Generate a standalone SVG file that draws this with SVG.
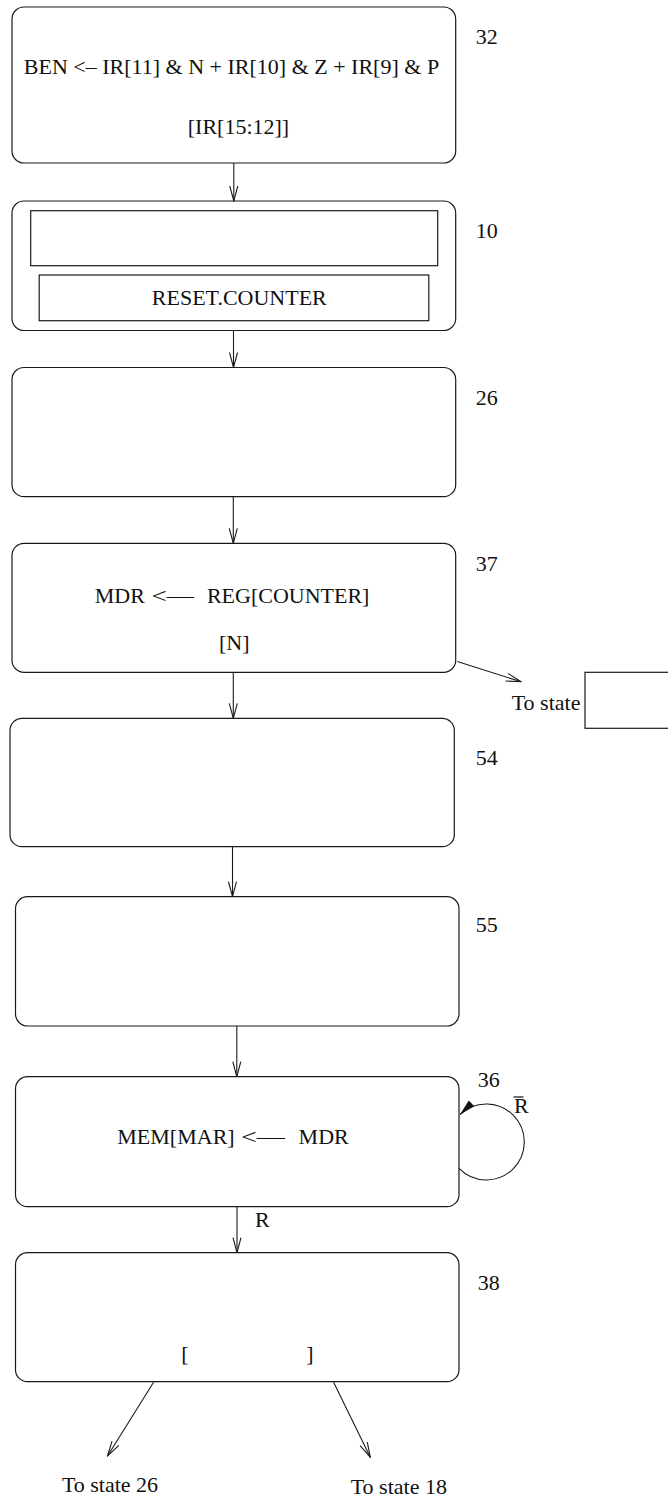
<svg xmlns="http://www.w3.org/2000/svg" width="668" height="1498" viewBox="0 0 668 1498">
<style>
.box{fill:none;stroke:#1a1a1a;stroke-width:1.2}
.ln{fill:none;stroke:#1a1a1a;stroke-width:1.1}
text{font-family:"Liberation Serif","Times New Roman",serif;font-size:22px;fill:#111}
.c{text-anchor:middle}
</style>
<defs>
<marker id="open" viewBox="0 0 16 10" refX="15.5" refY="5" markerWidth="16" markerHeight="10" markerUnits="userSpaceOnUse" orient="auto">
<path d="M0.5,1 L15.5,5 L0.5,9" fill="none" stroke="#1a1a1a" stroke-width="1.1"/>
</marker>
<marker id="solid" viewBox="0 0 16 10" refX="16" refY="5" markerWidth="16" markerHeight="10" markerUnits="userSpaceOnUse" orient="auto">
<path d="M0,1 L16,5 L0,9 Z" fill="#111" stroke="none"/>
</marker>
</defs>
<rect width="668" height="1498" fill="#fff"/>

<g id="state32">
<rect class="box" x="12" y="7" width="443.7" height="156" rx="12"/>
<text class="c" x="231.5" y="74">BEN &lt;– IR[11] &amp; N + IR[10] &amp; Z + IR[9] &amp; P</text>
<text class="c" x="238.5" y="134">[IR[15:12]]</text>
<text x="475.7" y="44">32</text>
</g>

<g id="state10">
<rect class="box" x="12" y="201" width="443.7" height="129.5" rx="12"/>
<rect class="box" x="30.7" y="210.7" width="407" height="55"/>
<rect class="box" x="39.2" y="275" width="389.6" height="45.7"/>
<text class="c" x="239.3" y="305">RESET.COUNTER</text>
<text x="475.7" y="238">10</text>
</g>

<g id="state26">
<rect class="box" x="12" y="367.5" width="443.7" height="129.2" rx="12"/>
<text x="475.7" y="405">26</text>
</g>

<g id="state37">
<rect class="box" x="12" y="543.3" width="443.7" height="129" rx="12"/>
<text x="94.7" y="603">MDR</text>
<text x="151.5" y="603" textLength="42.6" lengthAdjust="spacingAndGlyphs">&lt;—</text>
<text x="206.9" y="603">REG[COUNTER]</text>
<text class="c" x="234.2" y="650">[N]</text>
<text x="475.7" y="571">37</text>
</g>

<g id="tostate-box">
<text x="511.7" y="710">To state</text>
<rect class="box" x="585" y="672.3" width="100" height="56"/>
</g>

<g id="state54">
<rect class="box" x="10" y="718.3" width="444.3" height="128.4" rx="12"/>
<text x="475.7" y="765">54</text>
</g>

<g id="state55">
<rect class="box" x="15.5" y="896.7" width="443.5" height="129.3" rx="12"/>
<text x="475.7" y="931.7">55</text>
</g>

<g id="state36">
<rect class="box" x="15.5" y="1076.7" width="443.5" height="130" rx="12"/>
<text x="117.3" y="1144">MEM[MAR]</text>
<text x="241" y="1144" textLength="44" lengthAdjust="spacingAndGlyphs">&lt;—</text>
<text x="298.6" y="1144">MDR</text>
<text x="477.7" y="1087.3">36</text>
</g>

<g id="state38">
<rect class="box" x="15.5" y="1252.7" width="443.5" height="129" rx="12"/>
<text x="181.3" y="1361">[</text>
<text x="306.3" y="1361">]</text>
<text x="477.7" y="1290">38</text>
</g>

<g id="connectors">
<line class="ln" x1="233.8" y1="163" x2="233.8" y2="201" marker-end="url(#open)"/>
<line class="ln" x1="233.5" y1="330.5" x2="233.5" y2="367.5" marker-end="url(#open)"/>
<line class="ln" x1="233.3" y1="496.7" x2="233.3" y2="543.3" marker-end="url(#open)"/>
<line class="ln" x1="233.3" y1="672.3" x2="233.3" y2="718.3" marker-end="url(#open)"/>
<line class="ln" x1="457.3" y1="661.5" x2="521" y2="681.7" marker-end="url(#open)"/>
<line class="ln" x1="232.5" y1="846.7" x2="232.5" y2="896.7" marker-end="url(#open)"/>
<line class="ln" x1="236.8" y1="1026" x2="236.8" y2="1076.7" marker-end="url(#open)"/>
<path class="ln" d="M459,1168.4 A38,38 0 1 0 460,1114.5" marker-end="url(#solid)"/>
<text x="514" y="1113.3">R</text>
<line x1="513.5" y1="1097" x2="523.5" y2="1097" stroke="#111" stroke-width="1.2"/>
<line class="ln" x1="237" y1="1206.7" x2="237" y2="1252.7" marker-end="url(#open)"/>
<text x="255" y="1226.7">R</text>
<line class="ln" x1="153.6" y1="1382.3" x2="107.5" y2="1456" marker-end="url(#open)"/>
<line class="ln" x1="333.6" y1="1382.3" x2="370.3" y2="1457.3" marker-end="url(#open)"/>
<text x="61.9" y="1491.7">To state 26</text>
<text x="350.7" y="1494">To state 18</text>
</g>
</svg>
